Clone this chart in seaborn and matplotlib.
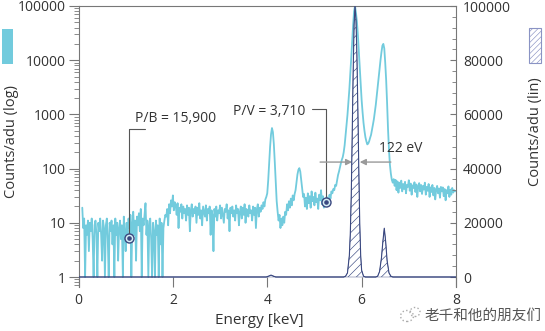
import numpy as np
import pandas as pd
import matplotlib
matplotlib.use("Agg")
import matplotlib.pyplot as plt
import seaborn as sns
from matplotlib.ticker import FixedLocator, FixedFormatter, LogLocator, NullFormatter, MultipleLocator
from matplotlib.patches import Rectangle, Ellipse

# ---------------- data ----------------
# log spectrum: segments on a 0.02 keV channel grid, each with its start energy
seg_starts = [0.08, 1.86, 4.00, 5.30, 6.70]
seg_a = [19, 8, 12, 1, 9, 6, 11, 3, 10, 7,
         12, 5, 1, 9, 11, 6, 1, 10, 7, 12,
         6, 2, 11, 8, 1, 9, 12, 5, 1, 10,
         7, 11, 4, 9, 1, 12, 6, 10, 2, 8,
         11, 5, 9, 1, 13, 7, 3, 10, 6, 12,
         8, 14, 1, 10, 16, 6, 11, 2, 13, 9,
         15, 7, 18, 1, 12, 9, 14, 23, 6, 11,
         1, 9, 12, 5, 1, 10, 7, 1, 11, 6,
         9, 1, 12, 4, 10, 1, 8, 11, 14]
seg_b = [13, 18, 9, 22, 15, 26, 20, 32, 17, 24,
         21, 14, 23, 8, 19, 16, 22, 12, 20, 15,
         18, 11, 21, 14, 19, 7, 17, 22, 13, 18,
         15, 20, 10, 19, 14, 23, 12, 17, 9, 20,
         16, 13, 21, 11, 18, 15, 20, 6, 17, 14,
         3, 18, 13, 20, 11, 17, 15, 21, 12, 19,
         14, 10, 18, 16, 22, 12, 17, 7, 19, 15,
         20, 13, 17, 11, 21, 15, 18, 9, 16, 20,
         12, 19, 14, 22, 10, 18, 16, 13, 21, 15,
         17, 11, 20, 14, 19, 8, 18, 22, 13, 19,
         16, 21, 18, 24, 20, 27, 30]
seg_c = [35, 60, 120, 250, 430, 560, 470, 280, 130, 55,
         25, 16, 11, 14, 8, 12, 9, 13, 10, 16,
         14, 22, 17, 25, 19, 28, 21, 32, 26, 34,
         40, 55, 78, 95, 102, 88, 62, 42, 30, 34,
         20, 29, 18, 35, 23, 31, 19, 38, 25, 30,
         21, 36, 24, 28, 18, 33, 26, 40, 22, 31,
         19, 27, 23, 30, 25]
seg_d = [26, 33, 28, 38, 35, 42, 40, 50, 48, 60,
         76, 88, 105, 125, 145, 163, 200, 270, 420, 650,
         980, 1700, 2900, 5500, 11000, 23000, 45000, 80000, 100000, 75000,
         52000, 30000, 15000, 7500, 3500, 1850, 1100, 700, 500, 380,
         320, 280, 290, 320, 370, 420, 520, 650, 820, 1100,
         1500, 2200, 3200, 4700, 7000, 10000, 14000, 18500, 20000, 16500,
         9000, 4300, 1600, 520, 220, 116, 80, 62, 55, 64]
seg_e = [48, 62, 40, 58, 36, 55, 44, 60, 38, 52,
         42, 57, 35, 50, 46, 61, 39, 53, 33, 49,
         44, 56, 37, 51, 30, 47, 54, 38, 50, 34,
         48, 41, 55, 33, 46, 39, 52, 30, 45, 37,
         50, 32, 44, 27, 41, 48, 35, 43, 29, 46,
         38, 45, 31, 42, 26, 40, 35, 47, 30, 41,
         33, 44, 36, 40, 38]

# linear spectrum (hatched)
lin_energy = [0.0, 3.98, 4.04, 4.08, 4.12, 4.18,
              5.62, 5.66, 5.70, 5.74, 5.76, 5.78, 5.80, 5.82, 5.84, 5.86,
              5.88, 5.90, 5.92, 5.94, 5.96, 5.98, 6.00, 6.04, 6.08,
              6.30, 6.34, 6.38, 6.42, 6.45, 6.48, 6.51, 6.54, 6.58, 6.62, 6.66,
              8.0]
lin_counts = [0, 0, 400, 700, 400, 0,
              0, 300, 1500, 8000, 16000, 30000, 52000, 75000, 93000, 100000,
              95000, 82000, 62000, 40000, 20000, 8000, 2500, 300, 0,
              0, 300, 2000, 7000, 13000, 18000, 13000, 6000, 1500, 300, 0,
              0]

log_ticks = [1, 10, 100, 1000, 10000, 100000]
log_tick_labels = ["1", "10", "100", "1000", "10000", "100000"]
lin_ticks = [0, 20000, 40000, 60000, 80000, 100000]
lin_tick_labels = ["0", "20000", "40000", "60000", "80000", "100000"]
x_ticks = [0, 2, 4, 6, 8]
x_tick_labels = ["0", "2", "4", "6", "8"]

pb_point = (1.07, 5.2)
pv_point = (5.25, 24)
pb_label = "P/B = 15,900"
pv_label = "P/V = 3,710"
fwhm_label = "122 eV"

# ---------------- styling ----------------
CYAN = "#72CBDD"
NAVY = "#3A4880"
LAVENDER = "#8A93C4"
GRAY = "#777777"
TXT = "#333333"

sns.set_theme(style="white")
plt.rcParams["font.family"] = ["Open Sans", "DejaVu Sans"]
plt.rcParams["hatch.linewidth"] = 0.45

energies, counts = [], []
for start, seg in zip(seg_starts, [seg_a, seg_b, seg_c, seg_d, seg_e]):
    energies += [round(start + 0.02 * k, 3) for k in range(len(seg))]
    counts += seg
df = pd.DataFrame({"energy": energies, "counts": counts})
df_lin = pd.DataFrame({"energy": lin_energy, "counts": lin_counts})

fig = plt.figure(figsize=(5.45, 3.31), dpi=100)
ax = fig.add_axes([78.5 / 545, 1 - 287 / 331, (456 - 78.5) / 545, (287 - 6) / 331])

sns.lineplot(data=df, x="energy", y="counts", ax=ax, color=CYAN, lw=1.3,
             estimator=None, sort=False)
ax.set_yscale("log")
ax.set_ylim(0.654, 100000)
ax.set_xlim(0, 8)
ax.set_xlabel("")
ax.set_ylabel("")

ax.yaxis.set_major_locator(FixedLocator(log_ticks))
ax.yaxis.set_major_formatter(FixedFormatter(log_tick_labels))
ax.yaxis.set_minor_locator(LogLocator(base=10, subs=range(2, 10)))
ax.yaxis.set_minor_formatter(NullFormatter())
ax.set_xticks(x_ticks)
ax.set_xticklabels(x_tick_labels)

ax.tick_params(axis="y", which="major", direction="out", length=7, width=0.8,
               pad=2, labelsize=10, color=GRAY, labelcolor=TXT, left=True)
ax.tick_params(axis="y", which="minor", direction="out", length=3.5, width=0.6,
               color=GRAY, left=True)
ax.tick_params(axis="x", which="major", direction="in", length=7.5, width=0.8,
               pad=4, labelsize=10, color=GRAY, labelcolor=TXT, bottom=True, top=False)

for side in ["left", "top"]:
    ax.spines[side].set_color(GRAY)
    ax.spines[side].set_linewidth(0.8)
ax.spines["bottom"].set_visible(False)
ax.spines["right"].set_visible(False)

# annotations on log axis
ax.plot([pb_point[0], pb_point[0], 1.41], [pb_point[1], 540, 540], color="#555555", lw=0.8, zorder=3)
ax.text(1.20, 855, pb_label, ha="left", va="center", fontsize=10, color=TXT)
ax.plot([4.945, pv_point[0], pv_point[0]], [1240, 1240, pv_point[1]], color="#555555", lw=0.8, zorder=3)
ax.text(3.28, 1120, pv_label, ha="left", va="center", fontsize=10, color=TXT)
for px, py in [pb_point, pv_point]:
    ax.plot(px, py, "o", ms=6.5, mfc="#d6eef4", mec=NAVY, mew=1.0, zorder=4)
    ax.plot(px, py, "o", ms=2.3, color=NAVY, zorder=5)

arrow_kw = dict(arrowstyle="-|>", color="#9a9a9a", lw=1.0, mutation_scale=9,
                shrinkA=0, shrinkB=0)
ax.annotate("", xy=(5.80, 132), xytext=(5.12, 132), arrowprops=arrow_kw, zorder=4)
ax.annotate("", xy=(5.96, 132), xytext=(6.62, 132), arrowprops=arrow_kw, zorder=4)
ax.text(6.36, 237, fwhm_label, ha="left", va="center", fontsize=10, color=TXT)

# linear axis
ax2 = ax.twinx()
ax2.fill_between(df_lin["energy"], df_lin["counts"], 0, facecolor="white",
                 edgecolor=NAVY, hatch="////", lw=0.3, zorder=2)
sns.lineplot(data=df_lin, x="energy", y="counts", ax=ax2, color=NAVY, lw=0.8,
             estimator=None, sort=False, zorder=3)
ax2.set_ylim(-3690, 100000)
ax2.set_xlim(0, 8)
ax2.set_ylabel("")
ax2.yaxis.set_major_locator(FixedLocator(lin_ticks))
ax2.yaxis.set_major_formatter(FixedFormatter(lin_tick_labels))
ax2.yaxis.set_minor_locator(MultipleLocator(4000))
ax2.tick_params(axis="y", which="major", direction="in", length=4.5, width=0.8,
                pad=5, labelsize=10, color=GRAY, labelcolor=TXT, right=True)
ax2.tick_params(axis="y", which="minor", direction="in", length=3, width=0.6,
                color=GRAY, right=True)
for side in ["left", "top", "bottom"]:
    ax2.spines[side].set_visible(False)
ax2.spines["right"].set_color(GRAY)
ax2.spines["right"].set_linewidth(0.8)

# axis titles and legend swatches
fig.text(12 / 545, 1 - 141 / 331, "Counts/adu (log)", rotation=90, ha="center",
         va="center", fontsize=10.5, color=TXT)
fig.text(535 / 545, 1 - 132 / 331, "Counts/adu (lin)", rotation=90, ha="center",
         va="center", fontsize=10.5, color=TXT)
fig.text(259 / 545, 1 - 321 / 331, "Energy [keV]", ha="center", va="center",
         fontsize=11, color=TXT)
fig.patches.append(Rectangle((2 / 545, 1 - 64 / 331), 11 / 545, 35 / 331,
                             transform=fig.transFigure, facecolor=CYAN, edgecolor="none"))
fig.patches.append(Rectangle((529 / 545, 1 - 63 / 331), 12 / 545, 35 / 331,
                             transform=fig.transFigure, facecolor="white",
                             edgecolor=LAVENDER, hatch="//////", lw=0.8))

# watermark
fig.text(425 / 545, 1 - 316 / 331, "老千和他的朋友们", ha="left", va="center",
         fontsize=10.5, color="#555555", family=["Noto Sans CJK SC", "DejaVu Sans"])
fig.patches.append(Ellipse((407 / 545, 1 - 316 / 331), 13 / 545, 11 / 331,
                           transform=fig.transFigure, fill=False, ls=":", ec="#aaaaaa", lw=1))
fig.patches.append(Ellipse((415 / 545, 1 - 312 / 331), 10 / 545, 9 / 331,
                           transform=fig.transFigure, fill=False, ls=":", ec="#aaaaaa", lw=1))

fig.savefig("out.png", dpi=100)
